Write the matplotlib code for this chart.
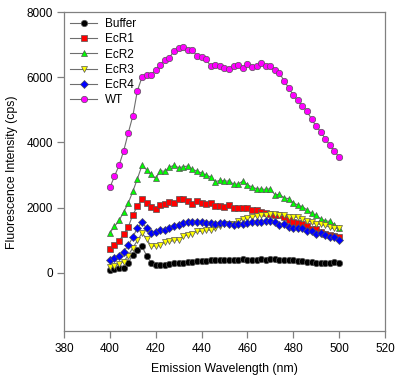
import numpy as np
import matplotlib
matplotlib.use("Agg")
import matplotlib.pyplot as plt

plt.rcParams['font.family'] = ['Liberation Sans', 'DejaVu Sans']

wavelength = np.arange(400, 501, 2)

buffer_cps = [101, 122, 163, 163, 306, 552, 685, 808, 531, 306,
              245, 255, 255, 276, 296, 296, 306, 327, 347, 357,
              367, 367, 378, 378, 388, 398, 388, 398, 398, 410,
              390, 388, 398, 419, 398, 419, 419, 408, 408, 388,
              378, 367, 367, 347, 347, 306, 296, 296, 306, 327, 286]

ecr1 = [716, 839, 982, 1177, 1402, 1781, 2037, 2262, 2149, 2016,
        1955, 2088, 2119, 2170, 2139, 2252, 2252, 2201, 2119, 2190,
        2139, 2119, 2139, 2037, 2047, 2016, 2067, 1986, 1996, 1996,
        1975, 1914, 1934, 1863, 1842, 1811, 1781, 1760, 1709, 1627,
        1555, 1525, 1484, 1422, 1351, 1330, 1248, 1197, 1146, 1125, 1095]

ecr2 = [1228, 1422, 1607, 1863, 2139, 2497, 2887, 3296, 3163, 3020,
        2897, 3132, 3112, 3245, 3296, 3224, 3255, 3276, 3173, 3122,
        3061, 2999, 2938, 2794, 2835, 2815, 2815, 2723, 2723, 2815,
        2702, 2631, 2579, 2569, 2559, 2579, 2395, 2405, 2303, 2272,
        2149, 2078, 2026, 1934, 1832, 1760, 1658, 1596, 1576, 1474, 1381]

ecr3 = [183, 224, 276, 347, 531, 767, 992, 1218, 1044, 808,
        828, 839, 951, 961, 992, 1013, 1115, 1166, 1197, 1269,
        1269, 1320, 1300, 1371, 1422, 1484, 1504, 1504, 1586, 1648,
        1688, 1719, 1750, 1781, 1781, 1811, 1801, 1760, 1760, 1699,
        1699, 1709, 1658, 1596, 1555, 1504, 1484, 1453, 1402, 1381, 1381]

ecr4 = [408, 449, 511, 654, 839, 1095, 1381, 1545, 1371, 1218,
        1238, 1300, 1320, 1371, 1422, 1463, 1525, 1545, 1566, 1566,
        1545, 1525, 1525, 1484, 1525, 1525, 1494, 1463, 1494, 1490,
        1525, 1555, 1545, 1555, 1576, 1576, 1545, 1453, 1494, 1402,
        1371, 1371, 1371, 1269, 1269, 1176, 1228, 1156, 1095, 1095, 1013]

wt = [2620, 2960, 3300, 3740, 4290, 4810, 5590, 6000, 6060, 6080,
      6225, 6370, 6525, 6605, 6810, 6890, 6930, 6850, 6830, 6655,
      6635, 6545, 6340, 6380, 6330, 6275, 6245, 6360, 6380, 6280,
      6405, 6315, 6360, 6430, 6350, 6360, 6235, 6145, 5880, 5685,
      5450, 5295, 5130, 4955, 4720, 4495, 4330, 4105, 3920, 3735, 3550]

series = [
    ("Buffer", buffer_cps, "o", "black"),
    ("EcR1", ecr1, "s", "#ff0000"),
    ("EcR2", ecr2, "^", "#00ff00"),
    ("EcR3", ecr3, "v", "#ffff00"),
    ("EcR4", ecr4, "D", "#0000ff"),
    ("WT", wt, "o", "#ff00ff"),
]

fig = plt.figure(figsize=(3.98, 3.83), dpi=100)
ax = fig.add_axes([0.161, 0.1345, 0.806, 0.834])

for name, vals, marker, color in series:
    ms = 4.0 if marker == "D" else 4.6
    ax.plot(wavelength, vals, color="#6e6e6e", lw=0.8, marker=marker,
            markersize=ms, markerfacecolor=color, markeredgecolor="#555555",
            markeredgewidth=0.5, label=name)

ax.set_xlim(380, 520)
ax.set_ylim(-1800, 8000)
ax.set_xticks(np.arange(380, 521, 20))
ax.set_yticks(np.arange(0, 8001, 2000))

for side in ax.spines.values():
    side.set_color("#808080")
    side.set_linewidth(0.9)
ax.tick_params(direction="out", length=5, width=0.9, color="#808080",
               labelsize=8.5, pad=3)

ax.set_xlabel("Emission Wavelength (nm)", fontsize=8.8, labelpad=6)
ax.set_ylabel("Fluorescence Intensity (cps)", fontsize=8.8, labelpad=6)

ax.legend(loc="upper left", frameon=False, fontsize=8.5, handlelength=2.3,
          labelspacing=0.28, handletextpad=0.7, borderaxespad=0.3,
          borderpad=0.2)

fig.savefig("out.png", dpi=100)
